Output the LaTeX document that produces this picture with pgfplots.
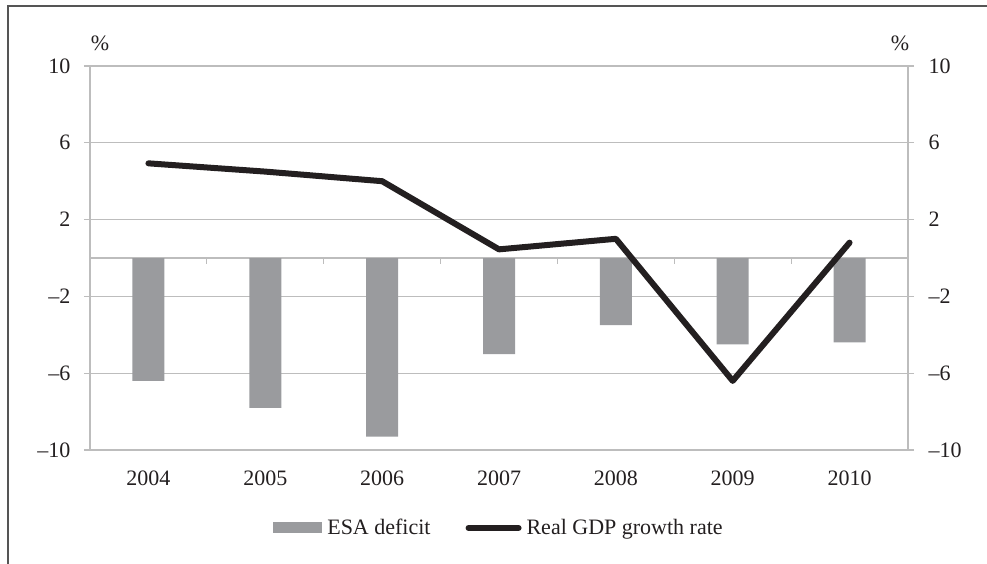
\documentclass[border=0pt]{standalone}
\usepackage{fontspec}
\setmainfont{Liberation Serif}
\usepackage{pgfplots}
\pgfplotsset{compat=1.18}
\definecolor{bargray}{HTML}{9A9B9E}
\definecolor{gridgray}{HTML}{BDBDBD}
\definecolor{ink}{HTML}{231F20}
\definecolor{framegray}{HTML}{555555}
\newcommand{\lbl}{\fontsize{22}{26}\selectfont}

\begin{document}
\begin{tikzpicture}[x=1pt,y=1pt,font=\lbl,text=ink]
\useasboundingbox (0,0) rectangle (987,563);
\draw[framegray, line width=2pt] (8,-2) -- (8,557) -- (990,557);
\begin{axis}[
  at={(90pt,113pt)}, anchor=south west,
  width=818pt, height=384pt, scale only axis,
  xmin=-0.5, xmax=6.5, ymin=-10, ymax=10,
  xtick={0,...,6}, xticklabels={2004,2005,2006,2007,2008,2009,2010},
  major x tick style={draw=none},
  ytick={-10,-6,-2,2,6,10},
  yticklabels={–10,–6,–2,2,6,10},
  ytick pos=left, tick align=outside, major tick length=6pt,
  ymajorgrids, grid style={gridgray, line width=1.2pt},
  axis line style={gridgray, line width=1.2pt},
  y tick style={gridgray, line width=1.2pt},
  tick label style={font=\lbl, text=ink},
  xticklabel style={yshift=-11pt},
  yticklabel style={xshift=-10pt},
  legend style={at={(0.5,-0.203)}, anchor=center, draw=none, font=\lbl,
    text=ink, legend columns=2,
    /tikz/every even column/.append style={column sep=33pt}},
  clip=false,
]
\draw[gridgray, line width=1.2pt] (axis cs:-0.5,0) -- (axis cs:6.5,0);
\pgfplotsinvokeforeach{0.5,1.5,2.5,3.5,4.5,5.5}{
  \draw[gridgray, line width=1.2pt] (axis cs:#1,0) -- ([yshift=-6pt]axis cs:#1,0);
}
\addplot[ybar, bar width=32pt, fill=bargray, draw=none,
  legend image code/.code={\fill[bargray] (0pt,-5.5pt) rectangle (49pt,5.5pt); \path (52pt,0pt);}]
  coordinates {(0,-6.4)(1,-7.8)(2,-9.3)(3,-5.0)(4,-3.5)(5,-4.5)(6,-4.4)};
\addlegendentry{ESA deficit}
\addplot[ink, line width=6pt, line cap=round, line join=round,
  legend image code/.code={\draw[ink, line width=6pt, line cap=round] (3pt,0pt) -- (53pt,0pt); \path (56pt,0pt);}]
  coordinates {(0,4.93)(1,4.5)(2,4.0)(3,0.45)(4,1.0)(5,-6.4)(6,0.8)};
\addlegendentry{Real GDP growth rate}
\node[anchor=south, text=ink] at ([xshift=10pt,yshift=12pt]rel axis cs:0,1) {\%};
\node[anchor=south, text=ink] at ([xshift=-8pt,yshift=12pt]rel axis cs:1,1) {\%};
\end{axis}
\begin{axis}[
  at={(90pt,113pt)}, anchor=south west,
  width=818pt, height=384pt, scale only axis,
  xmin=-0.5, xmax=6.5, ymin=-10, ymax=10,
  hide x axis, axis y line*=right,
  ytick={-10,-6,-2,2,6,10},
  yticklabels={–10,–6,–2,2,6,10},
  tick align=outside, major tick length=6pt,
  axis line style={gridgray, line width=1.2pt},
  y tick style={gridgray, line width=1.2pt},
  tick label style={font=\lbl, text=ink},
  yticklabel style={xshift=11pt},
]
\end{axis}
\end{tikzpicture}
\end{document}
